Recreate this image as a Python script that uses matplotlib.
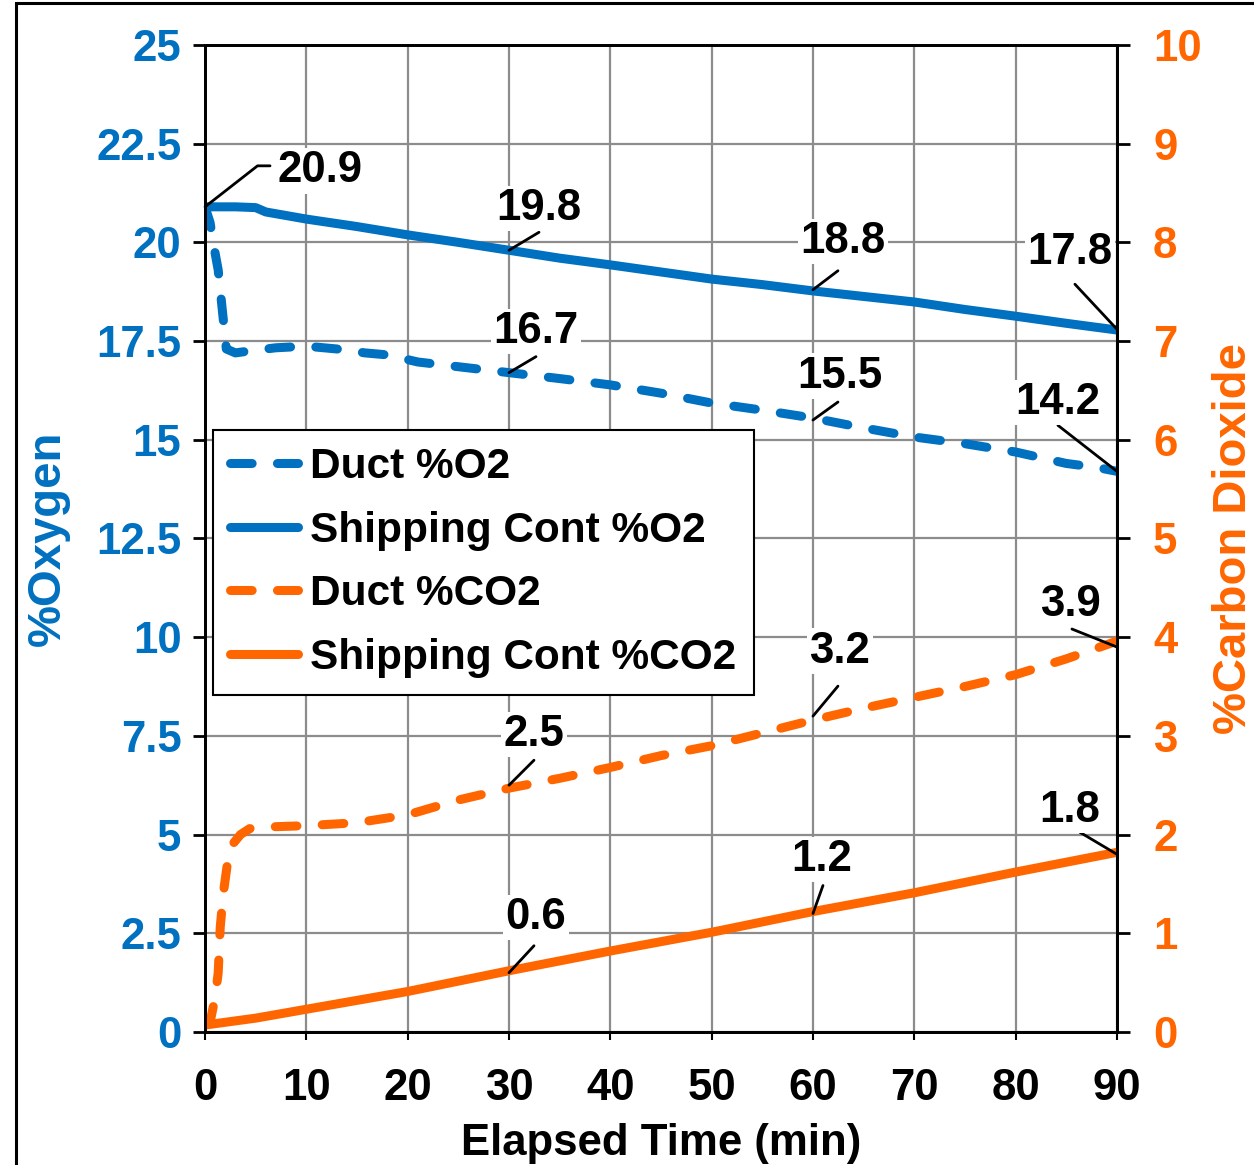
import numpy as np
import matplotlib
matplotlib.use('Agg')
import matplotlib.pyplot as plt
from matplotlib.patches import Rectangle

plt.rcParams['font.family'] = ['Liberation Sans', 'DejaVu Sans']
plt.rcParams['font.weight'] = 'bold'

BLUE = '#0070C0'
ORANGE = '#FF6600'

# Duct %O2 (left axis)
duct_o2_t = [0, 0.5, 0.8, 1.3, 1.7, 2.1, 3, 4.4, 7, 10, 13, 15.8, 18, 21, 25, 30, 35, 40, 45, 50, 55, 60, 65, 70, 75, 80, 85, 88, 90]
duct_o2 = [20.9, 20.5, 20.0, 19.3, 18.3, 17.3, 17.2, 17.25, 17.33, 17.37, 17.3, 17.2, 17.15, 16.97, 16.85, 16.7, 16.55, 16.39, 16.18, 15.93, 15.75, 15.55, 15.3, 15.07, 14.9, 14.69, 14.4, 14.3, 14.2]

# Shipping container %O2 (left axis)
ship_o2_t = [0, 3, 5, 6, 8, 10, 15, 20, 25, 30, 35, 40, 45, 50, 55, 60, 65, 70, 75, 80, 85, 90]
ship_o2 = [20.9, 20.9, 20.88, 20.77, 20.68, 20.59, 20.4, 20.19, 20.0, 19.8, 19.6, 19.43, 19.25, 19.07, 18.93, 18.77, 18.63, 18.49, 18.3, 18.13, 17.95, 17.78]

# Duct %CO2 (right axis)
duct_co2_t = [0, 0.5, 1.0, 1.3, 1.5, 1.8, 2.2, 2.7, 3.5, 4.4, 7, 10, 15, 20, 25, 30, 35, 40, 45, 50, 55, 60, 65, 70, 75, 80, 85, 90]
duct_co2 = [0.07, 0.1, 0.35, 0.6, 1.06, 1.4, 1.7, 1.9, 2.0, 2.06, 2.08, 2.09, 2.12, 2.2, 2.35, 2.47, 2.57, 2.68, 2.8, 2.9, 3.03, 3.16, 3.28, 3.39, 3.5, 3.62, 3.78, 3.96]

# Shipping container %CO2 (right axis)
ship_co2_t = [0, 5, 10, 15, 20, 30, 40, 50, 60, 70, 80, 90]
ship_co2 = [0.07, 0.14, 0.23, 0.32, 0.41, 0.62, 0.82, 1.01, 1.22, 1.41, 1.62, 1.82]

# data labels: (time, value, label, line-end offset px, text offset px)
o2_labels = [
    (30, 19.8, '19.8', (30, 18), (30, 42)),
    (30, 16.7, '16.7', (27, 16), (27, 41)),
    (60, 18.8, '18.8', (25, 19), (30, 48)),
    (60, 15.5, '15.5', (25, 18), (27, 44)),
    (90, 17.8, '17.8', (-42, 45), (-47, 77)),
    (90, 14.2, '14.2', (-59, 46), (-59, 69)),
]
co2_labels = [
    (90, 3.9, '3.9', (-45, 18), (-47, 43)),
    (60, 3.2, '3.2', (25, 30), (27, 65)),
    (30, 2.5, '2.5', (25, 25), (25, 51)),
    (90, 1.8, '1.8', (-37, 22), (-47, 44)),
    (60, 1.2, '1.2', (10, 28), (9, 54)),
    (30, 0.6, '0.6', (25, 27), (27, 55)),
]

fig = plt.figure(figsize=(12.54, 11.65), dpi=100)
ax = fig.add_axes([0.1635, 0.1142, 0.7272, 0.8472])
ax2 = ax.twinx()

fig.patches.append(Rectangle((0.0128, -0.1), 2, 1.0974, transform=fig.transFigure,
                             fill=False, edgecolor='black', linewidth=2.2))

lw = 6.5
l1, = ax.plot(duct_o2_t, duct_o2, color=BLUE, lw=lw, dashes=(2.4, 2.8),
              dash_capstyle='round', solid_capstyle='round', label='Duct %O2')
l2, = ax.plot(ship_o2_t, ship_o2, color=BLUE, lw=lw, solid_capstyle='round',
              label='Shipping Cont %O2')
l3, = ax2.plot(duct_co2_t, duct_co2, color=ORANGE, lw=lw, dashes=(2.4, 2.8),
               dash_capstyle='round', solid_capstyle='round', label='Duct %CO2')
l4, = ax2.plot(ship_co2_t, ship_co2, color=ORANGE, lw=lw, solid_capstyle='round',
               label='Shipping Cont %CO2')

ax.set_xlim(0, 90)
ax.set_ylim(0, 25)
ax2.set_ylim(0, 10)
ax.set_xticks(np.arange(0, 91, 10))
ax.set_yticks(np.arange(0, 25.1, 2.5))
ax2.set_yticks(np.arange(0, 11, 1))
ax.set_yticklabels(['0', '2.5', '5', '7.5', '10', '12.5', '15', '17.5', '20', '22.5', '25'])

ax.grid(True, color='#8c8c8c', lw=1.6)
ax.set_axisbelow(True)
for a in (ax, ax2):
    for s in a.spines.values():
        s.set_linewidth(2)
        s.set_color('black')

fs = 31.5
ax.tick_params(axis='y', labelcolor=BLUE, color='black', labelsize=fs, length=9, width=2, direction='out', pad=8)
ax.tick_params(axis='x', labelsize=fs, length=6, width=1.5, direction='out', pad=20)
ax2.tick_params(axis='y', labelcolor=ORANGE, color='black', labelsize=fs, length=9, width=2, pad=17)

ax.set_xlabel('Elapsed Time (min)', fontsize=fs, fontweight='bold', labelpad=10)
ax.set_ylabel('%Oxygen', fontsize=34, fontweight='bold', color=BLUE)
ax2.set_ylabel('%Carbon Dioxide', fontsize=34, fontweight='bold', color=ORANGE)
ax.yaxis.set_label_coords(-0.148, 0.5)
ax2.yaxis.set_label_coords(1.104, 0.5)

box = dict(boxstyle='square,pad=0.05', facecolor='white', edgecolor='none')
# 20.9 label with bent leader
ax2.annotate('', xy=(0, 20.9 / 2.5), xytext=(65, 41), textcoords='offset pixels',
             arrowprops=dict(arrowstyle='-', lw=2, color='black', shrinkA=0, shrinkB=0,
                             connectionstyle='angle,angleA=0,angleB=38,rad=0'),
             annotation_clip=False)
ax2.annotate('20.9', xy=(0, 20.9 / 2.5), xytext=(115, 36), textcoords='offset pixels',
             ha='center', va='center', fontsize=fs, fontweight='bold', bbox=box,
             annotation_clip=False)
for tt, v, txt, lo, to in o2_labels:
    ax2.annotate('', xy=(tt, v / 2.5), xytext=lo, textcoords='offset pixels',
                 arrowprops=dict(arrowstyle='-', lw=2, color='black', shrinkA=0, shrinkB=0),
                 annotation_clip=False)
    ax2.annotate(txt, xy=(tt, v / 2.5), xytext=to, textcoords='offset pixels',
                 ha='center', va='center', fontsize=fs, fontweight='bold', bbox=box,
                 annotation_clip=False)
for tt, v, txt, lo, to in co2_labels:
    ax2.annotate('', xy=(tt, v), xytext=lo, textcoords='offset pixels',
                 arrowprops=dict(arrowstyle='-', lw=2, color='black', shrinkA=0, shrinkB=0),
                 annotation_clip=False)
    ax2.annotate(txt, xy=(tt, v), xytext=to, textcoords='offset pixels',
                 ha='center', va='center', fontsize=fs, fontweight='bold', bbox=box,
                 annotation_clip=False)

leg = ax2.legend(handles=[l1, l2, l3, l4], loc='upper left', bbox_to_anchor=(0.0088, 0.61),
                 borderaxespad=0, prop={'weight': 'bold', 'size': 30.5},
                 frameon=True, fancybox=False, framealpha=1, edgecolor='black',
                 handlelength=1.6, handletextpad=0.3, labelspacing=0.56, borderpad=0.4)
leg.get_frame().set_linewidth(1.5)

fig.savefig('out.png', dpi=100)
